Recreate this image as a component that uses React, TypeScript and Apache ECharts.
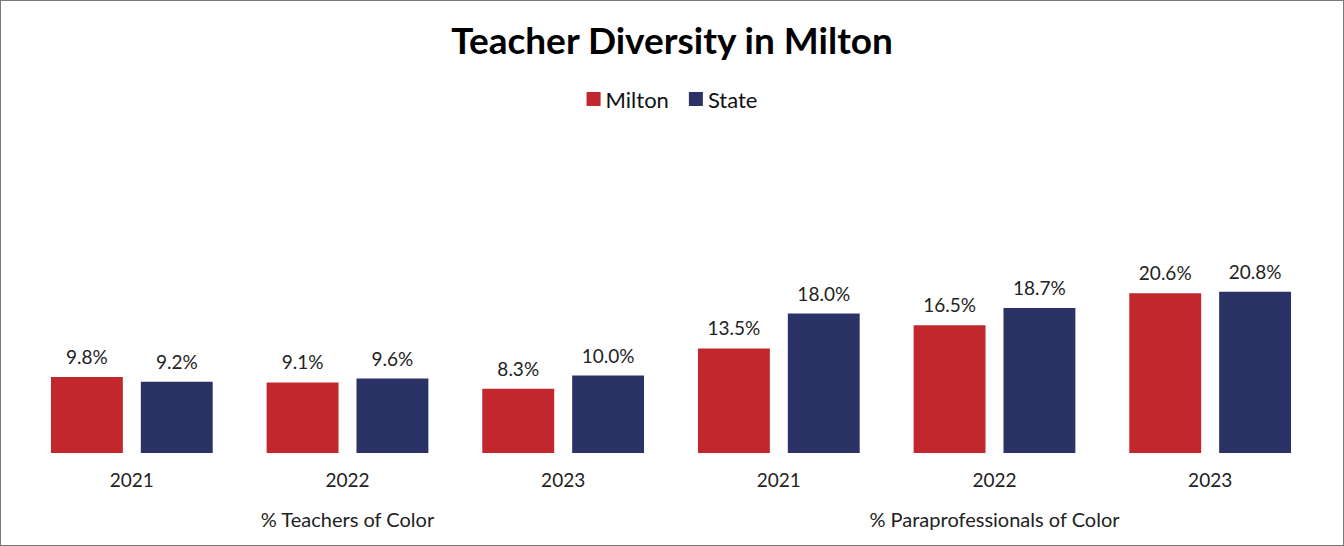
import React, { useEffect, useRef } from "react";
import * as echarts from "echarts";

const years = ["2021", "2022", "2023", "2021", "2022", "2023"];
const groups = ["% Teachers of Color", "% Paraprofessionals of Color"];
const miltonValues = [9.8, 9.1, 8.3, 13.5, 16.5, 20.6];
const stateValues = [9.2, 9.6, 10.0, 18.0, 18.7, 20.8];
const seriesNames = ["Milton", "State"];
const colors = ["#C1272D", "#2B3266"];

const FONT = "Lato, 'Noto Sans', sans-serif";

export default function App() {
  const ref = useRef<HTMLDivElement>(null);
  useEffect(() => {
    if (!ref.current) return;
    const chart = echarts.init(ref.current, undefined, { renderer: "svg" });
    const label = {
      show: true,
      position: "top",
      distance: 11,
      fontSize: 19,
      fontFamily: FONT,
      color: "#222",
      formatter: (p: any) => p.value.toFixed(1) + "%",
    };
    chart.setOption({
      animation: false,
      backgroundColor: "#fff",
      title: {
        text: "Teacher Diversity in Milton",
        left: "center",
        top: 15,
        textStyle: { fontSize: 37, fontWeight: "bold", fontFamily: FONT, color: "#000" },
      },
      legend: {
        data: seriesNames,
        top: 82,
        left: "center",
        icon: "rect",
        itemWidth: 14,
        itemHeight: 14,
        itemGap: 20,
        textStyle: { fontSize: 22, fontFamily: FONT, color: "#111" },
      },
      grid: { left: 23, right: 25, top: 142, bottom: 92, containLabel: false },
      xAxis: [
        {
          type: "category",
          data: years,
          axisLine: { show: false },
          axisTick: { show: false },
          axisLabel: { fontSize: 19, fontFamily: FONT, color: "#222", margin: 17 },
        },
        {
          type: "category",
          data: groups,
          position: "bottom",
          axisLine: { show: false },
          axisTick: { show: false },
          axisLabel: { fontSize: 20, fontFamily: FONT, color: "#222", margin: 56 },
        },
      ],
      yAxis: {
        type: "value",
        min: 0,
        max: 40,
        show: false,
        splitLine: { show: false },
      },
      series: [
        {
          name: seriesNames[0],
          type: "bar",
          data: miltonValues,
          itemStyle: { color: colors[0] },
          barGap: "25%",
          barCategoryGap: "25%",
          label,
        },
        {
          name: seriesNames[1],
          type: "bar",
          data: stateValues,
          itemStyle: { color: colors[1] },
          barGap: "25%",
          barCategoryGap: "25%",
          label,
        },
      ],
    });
    return () => chart.dispose();
  }, []);
  return (
    <div
      style={{
        position: "fixed",
        left: 0,
        top: 0,
        width: 1344,
        height: 546,
        boxSizing: "border-box",
        border: "1px solid #7a7a7a",
        background: "#fff",
      }}
    >
      <div ref={ref} style={{ width: 1342, height: 544 }} />
    </div>
  );
}
